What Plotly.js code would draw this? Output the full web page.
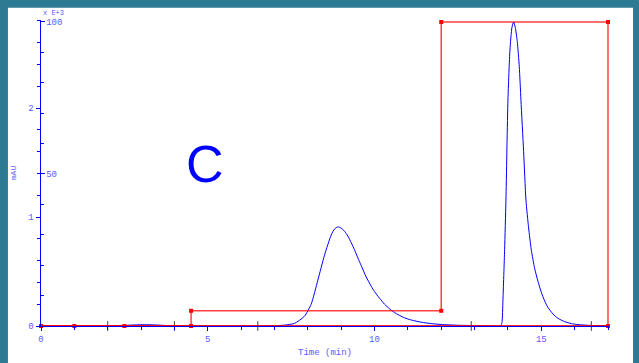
<!DOCTYPE html>
<html>
<head>
<meta charset="utf-8">
<script src="https://cdn.plot.ly/plotly-3.0.1.min.js"></script>
<style>
html,body{margin:0;padding:0;background:#2c7b93;}
#plot{width:639px;height:363px;}
</style>
</head>
<body>
<div id="plot"></div>
<script>
// Chromatogram (blue, mAU)
const timeMin = [0, 0.5, 1, 1.5, 2, 2.4, 2.8, 3.1, 3.4, 3.8, 4.2, 5, 6, 6.5, 7.0, 7.3, 7.6, 7.9, 8.1, 8.3, 8.5, 8.7, 8.8, 8.9, 9.0, 9.1, 9.2, 9.3, 9.4, 9.5, 9.6, 9.75, 9.9, 10.0, 10.15, 10.3, 10.5, 10.7, 10.9, 11.1, 11.4, 11.7, 12.0, 12.5, 13.0, 13.5, 13.78, 13.82, 13.85, 13.90, 13.94, 14.00, 14.06, 14.12, 14.17, 14.22, 14.28, 14.34, 14.39, 14.47, 14.54, 14.62, 14.70, 14.80, 14.90, 15.00, 15.10, 15.20, 15.35, 15.50, 15.70, 15.90, 16.10, 16.5, 17];
const absorbance = [0, 0, 0, 0, 0, 4, 10, 12, 10, 4, 0, 0, 0, 1, 3, 8, 24, 90, 200, 420, 650, 835, 890, 910, 898, 870, 825, 765, 700, 625, 555, 450, 365, 315, 255, 200, 145, 105, 75, 55, 35, 22, 14, 7, 4, 2, 2, 30, 240, 700, 1156, 2073, 2532, 2740, 2790, 2740, 2610, 2380, 2073, 1600, 1156, 900, 700, 530, 410, 310, 230, 170, 110, 70, 40, 22, 13, 5, 2];

// Gradient (red, %B)
const gradTime = [0, 1, 2.5, 4.5, 4.5, 12, 12, 17, 17];
const gradB = [0, 0, 0, 0, 5, 5, 100, 100, 0];
const baseTime = [0, 17];
const baseVal = [0, 0];

// Event marks
const eventTimes = [2.0, 4.0, 6.5, 12.9, 16.5];
const eventVals = [0, 0, 0, 0, 0];

// Ticks
const xTickVals = [0, 5, 10, 15];
const yTickVals = [0, 1000, 2000];
const yTickText = ['0', '1', '2'];
const y2TickVals = [50, 100];

const mono = 'Liberation Mono, Courier New, monospace';
const tickBlue = '#5a5aff';

const traces = [
  {x: baseTime, y: baseVal, yaxis: 'y2', mode: 'lines', line: {color: 'rgba(255,0,0,0.85)', width: 1.8}, hoverinfo: 'skip', cliponaxis: false},
  {x: timeMin, y: absorbance, mode: 'lines', line: {color: '#0000ff', width: 1, shape: 'spline', smoothing: 0.6}, cliponaxis: false},
  {x: gradTime, y: gradB, yaxis: 'y2', mode: 'lines+markers', line: {color: 'rgba(255,0,0,0.75)', width: 1.5}, marker: {color: '#ff0000', size: 4, symbol: 'square'}, cliponaxis: false},
  {x: eventTimes, y: eventVals, mode: 'markers', marker: {symbol: 'line-ns-open', size: 7, color: '#444', line: {width: 1, color: '#444'}}, cliponaxis: false}
];

const layout = {
  width: 639, height: 363,
  margin: {l: 41, r: 30, t: 20, b: 37, pad: 0},
  paper_bgcolor: '#2c7b93',
  plot_bgcolor: 'rgba(0,0,0,0)',
  showlegend: false,
  shapes: [{type: 'rect', xref: 'paper', yref: 'paper', x0: -0.0582, x1: 1.0423, y0: -0.25, y1: 1.04, fillcolor: '#ffffff', line: {width: 0}, layer: 'below'}],
  xaxis: {
    range: [0, 17.03], showgrid: false, zeroline: false,
    showline: true, linecolor: '#0000ff', linewidth: 1,
    tickvals: xTickVals, ticks: 'outside', ticklen: 4, tickcolor: '#0000ff', tickwidth: 1,
    minor: {dtick: 1, ticks: 'outside', ticklen: 3, tickcolor: '#0000ff'},
    tickfont: {family: mono, size: 9, color: tickBlue},
    title: {text: 'Time (min)', font: {family: mono, size: 9, color: tickBlue}, standoff: 4}
  },
  yaxis: {
    range: [0, 2808], showgrid: false, zeroline: false,
    showline: true, linecolor: '#0000ff', linewidth: 1.5,
    tickvals: yTickVals, ticktext: yTickText, ticks: 'outside', ticklen: 4, tickcolor: '#0000ff',
    minor: {dtick: 200, ticks: 'outside', ticklen: 3, tickcolor: '#0000ff'},
    tickfont: {family: mono, size: 9, color: tickBlue},
    title: {text: 'mAU', font: {family: mono, size: 8, color: tickBlue}, standoff: 10}
  },
  yaxis2: {
    overlaying: 'y', side: 'left', range: [0, 100.65], showgrid: false, zeroline: false, showline: false,
    tickvals: y2TickVals, ticks: 'inside', ticklen: 4, tickcolor: '#0000ff',
    ticklabelposition: 'inside', ticklabeloverflow: 'allow',
    minor: {dtick: 10, ticks: 'inside', ticklen: 3, tickcolor: '#0000ff'},
    tickfont: {family: mono, size: 9, color: tickBlue}
  },
  annotations: [
    {text: 'C', xref: 'paper', yref: 'paper', x: 0.289, y: 0.53, xanchor: 'center', yanchor: 'middle', showarrow: false, font: {family: 'Liberation Sans, Arial, sans-serif', size: 52, color: '#0000ff'}},
    {text: 'x E+3', xref: 'paper', yref: 'paper', x: 0, y: 1, xanchor: 'left', yanchor: 'bottom', yshift: 1, showarrow: false, font: {family: mono, size: 7, color: tickBlue}}
  ]
};

Plotly.newPlot('plot', traces, layout, {staticPlot: true, displayModeBar: false});
</script>
</body>
</html>
